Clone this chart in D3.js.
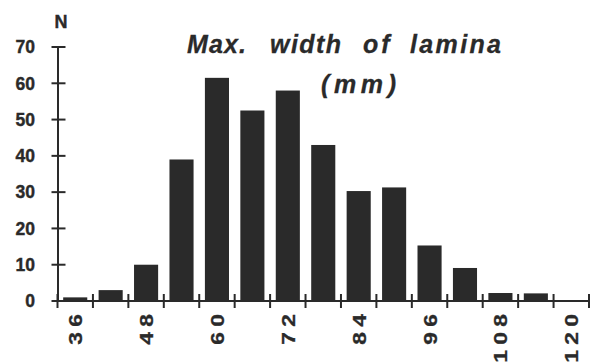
<!DOCTYPE html>
<html><head><meta charset="utf-8">
<script src="https://cdn.jsdelivr.net/npm/d3@7"></script>
<style>
html,body{margin:0;padding:0;background:#fff;}
svg{display:block;}
text{font-family:"Liberation Sans",Arial,Helvetica,sans-serif;font-weight:bold;fill:#2a2a2a;}
</style></head>
<body>
<script>
const binCenters = [36,42,48,54,60,66,72,78,84,90,96,102,108,114,120];
const counts     = [1,3,10,39,61.5,52.5,58,43,30.3,31.3,15.3,9.1,2.2,2.1,0];
const xTickLabels = [36,48,60,72,84,96,108,120];
const yTicks = [0,10,20,30,40,50,60,70];
const titleWords = ["Max.", "width", "of", "lamina"];
const titleLine2 = "(mm)";
const yAxisLabel = "N";

const W = 595, H = 363;
const ink = "#2a2a2a";
const svg = d3.select("body").append("svg").attr("width", W).attr("height", H);

const x = d3.scaleBand().domain(binCenters).range([57.5, 589]).paddingInner(0.32).paddingOuter(0.16);
const y = d3.scaleLinear().domain([0, 70]).range([301, 47]);
const step = x.step();

// bars
svg.append("g").selectAll("rect").data(binCenters.map((c,i)=>({c, v: counts[i]})).filter(d=>d.v>0))
  .join("rect")
  .attr("x", d => x(d.c))
  .attr("width", x.bandwidth())
  .attr("y", d => y(d.v))
  .attr("height", d => y(0) - y(d.v))
  .attr("fill", ink);

// y axis
const g = svg.append("g").attr("stroke", ink).attr("stroke-width", 2);
g.append("line").attr("x1", 58).attr("x2", 58).attr("y1", y(70)).attr("y2", y(0));
g.selectAll(".yt").data(yTicks).join("line")
  .attr("x1", 51.5).attr("x2", 65.5).attr("y1", d => y(d)).attr("y2", d => y(d));
svg.append("g").selectAll("text").data(yTicks).join("text")
  .attr("x", 35).attr("y", d => y(d)).attr("dy", "0.36em")
  .attr("text-anchor", "end").attr("font-size", 17.5)
  .attr("stroke", ink).attr("stroke-width", 0.4)
  .text(d => d);

// x axis
const x0 = x.range()[0];
g.append("line").attr("x1", x0).attr("x2", x.range()[1]).attr("y1", y(0)).attr("y2", y(0));
const bounds = d3.range(binCenters.length + 1).map(i => x0 + i * step);
g.selectAll(".xt").data(bounds).join("line")
  .attr("x1", d => d).attr("x2", d => d).attr("y1", y(0) - 7).attr("y2", y(0) + 7);

svg.append("g").selectAll("text").data(xTickLabels).join("text")
  .attr("transform", d => `translate(${x(d) + x.bandwidth()/2 + 7},${314}) rotate(-90) scale(1.2,1)`)
  .attr("text-anchor", "end").attr("font-size", 19).attr("letter-spacing", 4.5)
  .attr("dx", 4.5)
  .attr("stroke", ink).attr("stroke-width", 0.3)
  .text(d => d);

// N label
svg.append("text").attr("x", 61).attr("y", 28).attr("text-anchor", "middle")
  .attr("font-size", 18).attr("stroke", ink).attr("stroke-width", 0.4).text(yAxisLabel);

// title
const wordX = [187, 270, 363, 410];
const wordW = [59, 71, 26.5, 91];
svg.append("g").selectAll("text").data(titleWords).join("text")
  .attr("x", (d,i) => wordX[i]).attr("y", 53).attr("font-size", 25)
  .attr("font-style", "italic")
  .attr("textLength", (d,i) => wordW[i]).attr("lengthAdjust", "spacing")
  .attr("stroke", ink).attr("stroke-width", 0.3)
  .text(d => d);
svg.append("text").attr("x", 321).attr("y", 93).attr("font-size", 25)
  .attr("font-style", "italic").attr("textLength", 75).attr("lengthAdjust", "spacing")
  .attr("stroke", ink).attr("stroke-width", 0.3)
  .text(titleLine2);
</script>
</body></html>
